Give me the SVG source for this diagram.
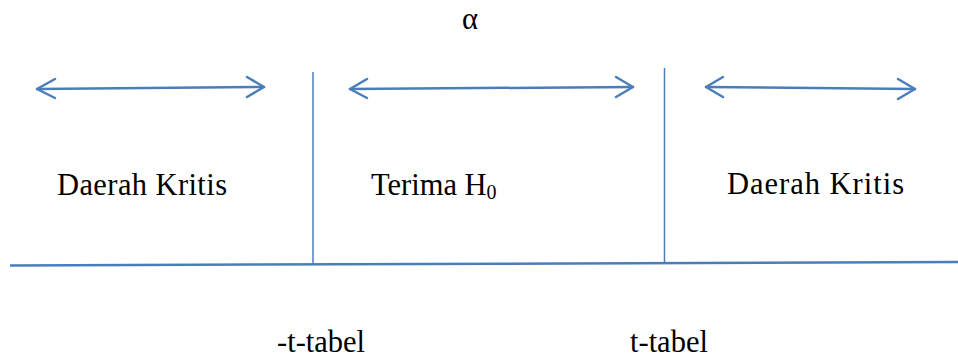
<svg xmlns="http://www.w3.org/2000/svg" width="958" height="358" viewBox="0 0 958 358">
<style>
.ln{stroke:#4a7ebb;fill:none}
.ar{stroke:#4a7ebb;stroke-width:2.5;fill:none;stroke-linecap:round;stroke-linejoin:round}
.t{font-family:'Liberation Serif','Times New Roman',serif;font-size:30.5px;fill:#000}
</style>
<g id="connectors">
<line class="ln" x1="10" y1="265.5" x2="958" y2="262" stroke-width="2.5"/>
<line class="ln" x1="313" y1="72" x2="313" y2="265" stroke-width="1.5"/>
<line class="ln" x1="664.5" y1="68" x2="664.5" y2="262" stroke-width="1.5"/>
<g id="arrow1"><path class="ar" d="M37,89 L264,87"/><path class="ar" d="M55,79 L37,89 L55,98"/><path class="ar" d="M247,77 L264,87 L247,97"/></g>
<g id="arrow2"><path class="ar" d="M350,89 L633,87"/><path class="ar" d="M367,79 L350,89 L367,98"/><path class="ar" d="M616,77 L633,87 L616,97"/></g>
<g id="arrow3"><path class="ar" d="M706,87 L915,89"/><path class="ar" d="M723,77 L706,87 L723,97"/><path class="ar" d="M898,79 L915,89 L898,99"/></g>
</g>
<g id="alpha"><text class="t" x="462" y="29">α</text></g>
<g id="left"><text class="t" x="57" y="195" font-size="31.5" textLength="170" lengthAdjust="spacing">Daerah Kritis</text></g>
<g id="middle"><text class="t" x="371" y="195">Terima H<tspan font-size="20" dy="4">0</tspan></text></g>
<g id="right"><text class="t" x="727" y="194" font-size="32" textLength="177" lengthAdjust="spacing">Daerah Kritis</text></g>
<g id="lt"><text class="t" x="277" y="352">-t-tabel</text></g>
<g id="rt"><text class="t" x="630" y="352">t-tabel</text></g>
</svg>
